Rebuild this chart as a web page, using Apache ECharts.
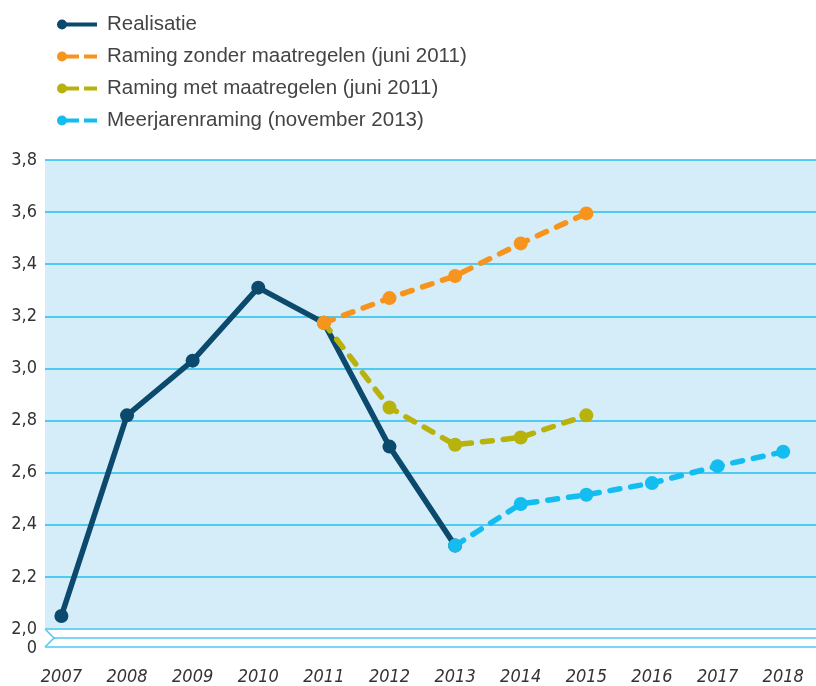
<!DOCTYPE html>
<html>
<head>
<meta charset="utf-8">
<script src="https://cdn.jsdelivr.net/npm/echarts@6/dist/echarts.min.js"></script>
<style>html,body{margin:0;padding:0;background:#fff;}#c{width:816px;height:686px;}</style>
</head>
<body>
<div id="c"></div>
<script>
var years = [2007, 2008, 2009, 2010, 2011, 2012, 2013, 2014, 2015, 2016, 2017, 2018];
var seriesNames = ['Realisatie', 'Raming zonder maatregelen (juni 2011)', 'Raming met maatregelen (juni 2011)', 'Meerjarenraming (november 2013)'];
var realisatie = [2.05, 2.82, 3.03, 3.31, 3.175, 2.70, 2.32, null, null, null, null, null];
var ramingZonder = [null, null, null, null, 3.175, 3.27, 3.355, 3.48, 3.595, null, null, null];
var ramingMet = [null, null, null, null, 3.175, 2.85, 2.707, 2.735, 2.82, null, null, null];
var meerjaren = [null, null, null, null, null, null, 2.32, 2.48, 2.515, 2.56, 2.625, 2.68];
var yTicks = [2.0, 2.2, 2.4, 2.6, 2.8, 3.0, 3.2, 3.4, 3.6, 3.8];
var breakLabel = '0';

var colors = { real: '#0b4a6d', zonder: '#f7941d', met: '#b8b20c', meer: '#13bdf0' };
var gridCol = '#22c1ef';
var numFont = '"Liberation Sans Narrow", "DejaVu Sans Condensed", "Liberation Sans", sans-serif';

function pairs(arr) {
  var out = [];
  for (var i = 0; i < years.length; i++) if (arr[i] != null) out.push([years[i], arr[i]]);
  return out;
}
var solidIcon = 'path://M0,5a5,5 0 1,1 10,0a5,5 0 1,1 -10,0ZM5,3H40V7H5Z';
var dashIcon = 'path://M0,5a5,5 0 1,1 10,0a5,5 0 1,1 -10,0ZM5,3H22V7H5ZM27,3H40V7H27Z';

function mkSeries(name, data, color, dashed, z) {
  return {
    name: name, type: 'line', data: pairs(data), z: z,
    symbol: 'circle', symbolSize: 14, showSymbol: true,
    itemStyle: { color: color },
    lineStyle: { color: color, width: 5.5, type: dashed ? [10, 11] : 'solid', cap: 'round', join: 'round' },
    emphasis: { disabled: true }, animation: false
  };
}

var chart = echarts.init(document.getElementById('c'), null, { renderer: 'canvas' });
var option = {
  animation: false,
  grid: { left: 45, right: 0, top: 160, bottom: 57, show: true, backgroundColor: '#d5ecf9', borderWidth: 0, outerBoundsMode: 'none', containLabel: false },
  legend: {
    orient: 'vertical', left: 57, top: 14, padding: 0, itemWidth: 40, itemHeight: 10, itemGap: 11,
    data: [
      { name: seriesNames[0], icon: solidIcon },
      { name: seriesNames[1], icon: dashIcon },
      { name: seriesNames[2], icon: dashIcon },
      { name: seriesNames[3], icon: dashIcon }
    ],
    textStyle: { fontFamily: '"Liberation Sans", Arial, sans-serif', fontSize: 20.5, color: '#444', lineHeight: 20, padding: [0, 0, 0, 5] },
    selectedMode: false
  },
  xAxis: {
    type: 'value', min: 2006.75, max: 2018.5,
    axisLine: { show: false }, axisTick: { show: false }, splitLine: { show: false },
    axisLabel: {
      customValues: years, margin: 39,
      fontFamily: numFont, fontSize: 18, fontStyle: 'italic', color: '#333',
      formatter: function (v) { return String(v); }
    }
  },
  yAxis: {
    type: 'value', min: 2.0, max: 3.8, interval: 0.2,
    axisLine: { show: false }, axisTick: { show: false },
    splitLine: { show: true, lineStyle: { color: gridCol, width: 1.5 } },
    axisLabel: {
      margin: 8, fontFamily: numFont, fontSize: 18, color: '#333',
      formatter: function (v) { return v.toFixed(1).replace('.', ','); }
    }
  },
  series: [
    mkSeries(seriesNames[0], realisatie, colors.real, false, 2),
    mkSeries(seriesNames[2], ramingMet, colors.met, true, 3),
    mkSeries(seriesNames[3], meerjaren, colors.meer, true, 4),
    mkSeries(seriesNames[1], ramingZonder, colors.zonder, true, 5)
  ]
};
chart.setOption(option);

// axis break decoration below the 2,0 line
var y0 = chart.convertToPixel({ yAxisIndex: 0 }, yTicks[0]);
var xl = 45, xr = 816;
var brk = '#4ccaf2';
chart.setOption({
  graphic: [
    { type: 'line', shape: { x1: xl, y1: y0, x2: xr, y2: y0 }, style: { stroke: '#6fd2f3', lineWidth: 2 }, silent: true, z: 10 },
    { type: 'polyline', shape: { points: [[xl, y0], [xl + 9, y0 + 9], [xl, y0 + 18]] }, style: { stroke: brk, lineWidth: 1.5, fill: null }, silent: true },
    { type: 'line', shape: { x1: xl + 9, y1: y0 + 9, x2: xr, y2: y0 + 9 }, style: { stroke: brk, lineWidth: 1.5 }, silent: true },
    { type: 'line', shape: { x1: xl, y1: y0 + 18, x2: xr, y2: y0 + 18 }, style: { stroke: brk, lineWidth: 1.5 }, silent: true },
    { type: 'text', x: 37, y: y0 + 19, style: { text: breakLabel, align: 'right', verticalAlign: 'middle', font: '18px ' + numFont, fill: '#333' }, silent: true }
  ]
});
</script>
</body>
</html>
